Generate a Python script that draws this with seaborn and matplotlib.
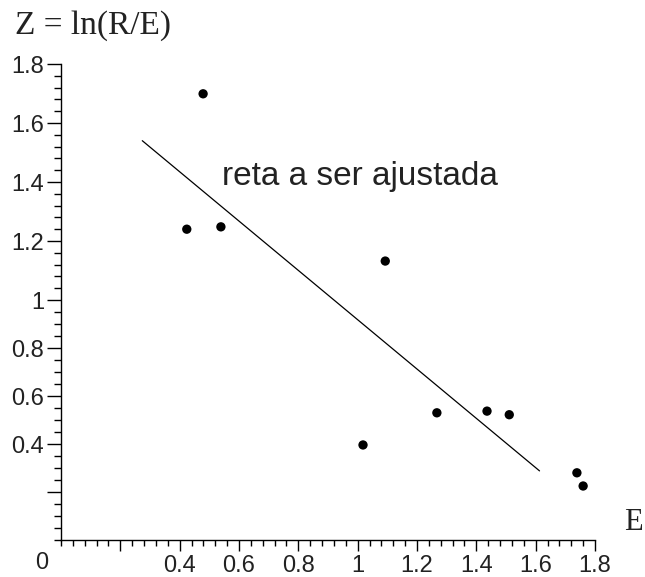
import matplotlib
matplotlib.use('Agg')
from matplotlib import pyplot as plt
import numpy as np
import seaborn as sns

# measured points (E, Z)
E = [0.479, 0.424, 0.539, 1.093, 1.018, 1.267, 1.436, 1.511, 1.739, 1.760]
Z = [1.699, 1.240, 1.248, 1.132, 0.396, 0.530, 0.537, 0.522, 0.280, 0.225]

# the straight line drawn over the points
line_E = [0.274, 1.613]
line_Z = [1.54, 0.288]

x_ticks = [0.2, 0.4, 0.6, 0.8, 1.0, 1.2, 1.4, 1.6, 1.8]
x_labels = ['', '0.4', '0.6', '0.8', '1', '1.2', '1.4', '1.6', '1.8']
y_ticks = [0.2, 0.4, 0.6, 0.8, 1.0, 1.2, 1.4, 1.6, 1.8]
y_labels = ['', '0.4', '0.6', '0.8', '1', '1.2', '1.4', '1.6', '1.8']

sns.set_style('ticks')
sans = ['Liberation Sans', 'DejaVu Sans']
serif = ['Liberation Serif', 'DejaVu Serif']
plt.rcParams['font.family'] = sans

# the vertical axis of the original is stretched above 1
K = 295 / 240
def fwd(y):
    y = np.asarray(y, dtype=float)
    return np.where(y <= 1, y, 1 + (y - 1) * K)
def inv(v):
    v = np.asarray(v, dtype=float)
    return np.where(v <= 1, v, 1 + (v - 1) / K)

fig = plt.figure(figsize=(6.45, 5.77), dpi=100)
ax = fig.add_axes([61/645, 37/577, (595-61)/645, (540-64)/577])
ax.set_yscale('function', functions=(fwd, inv))

sns.lineplot(x=line_E, y=line_Z, ax=ax, color='black', linewidth=0.9, sort=False)
sns.scatterplot(x=E, y=Z, ax=ax, color='black', s=45, edgecolor='none', zorder=3)

ax.set_xlim(0, 1.8)
ax.set_ylim(0, 1.8)

ax.set_xticks(x_ticks)
ax.set_xticklabels(x_labels, fontsize=17)
ax.set_xticks(np.arange(0, 1.81, 0.04), minor=True)
ax.set_yticks(y_ticks)
ax.set_yticklabels(y_labels, fontsize=17)
ax.set_yticks(np.r_[np.arange(0, 1, 0.05), np.arange(1, 1.81, 0.04)], minor=True)
ax.set_xlabel('')
ax.set_ylabel('')

for s in ['top', 'right']:
    ax.spines[s].set_visible(False)
for s in ['left', 'bottom']:
    ax.spines[s].set_color('black')
    ax.spines[s].set_linewidth(1)

ax.tick_params(axis='x', which='major', bottom=True, direction='out', length=8, width=1, pad=3, colors='black', labelcolor='#222222')
ax.tick_params(axis='x', which='minor', bottom=True, direction='out', length=4, width=1, colors='black')
ax.tick_params(axis='y', which='major', left=True, direction='out', length=10, width=1, pad=2, colors='black', labelcolor='#222222')
ax.tick_params(axis='y', which='minor', left=True, direction='out', length=5, width=1, colors='black')

ax.annotate('0', xy=(0, 0), xytext=(-14, -8.5), textcoords='offset points',
            ha='center', va='top', fontsize=17, color='#222222')
ax.text(0.543, 1.39, 'reta a ser ajustada', fontsize=24, color='#222222',
        ha='left', va='baseline')

fig.text(15/645, 1 - 26/577, 'Z = ln(R/E)', family=serif, fontsize=24,
         ha='left', va='center', color='#222222')
fig.text(633/645, 1 - 522/577, 'E', family=serif, fontsize=22,
         ha='center', va='center', color='#222222')

plt.savefig('out.png', dpi=100)
